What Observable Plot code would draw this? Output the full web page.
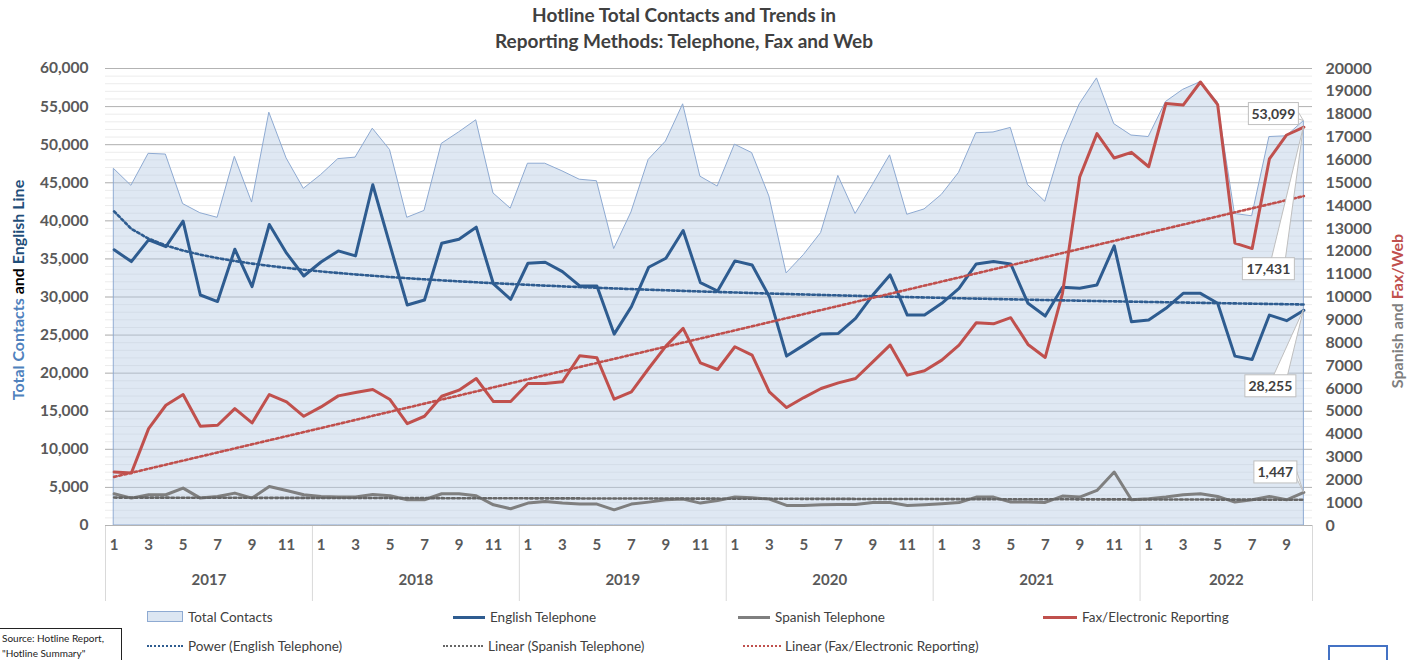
<!DOCTYPE html>
<html>
<head>
<meta charset="utf-8">
<script src="https://cdn.jsdelivr.net/npm/d3@7"></script>
<script src="https://cdn.jsdelivr.net/npm/@observablehq/plot@0.6"></script>
<style>
  html, body { margin: 0; padding: 0; background: #fff; }
  #wrap { position: relative; width: 1413px; height: 660px; overflow: hidden; font-family: Lato, "Open Sans", sans-serif; }
  #chart { position: absolute; left: 0; top: 0; }
  #title { position: absolute; left: 0; top: 2px; width: 1368px; text-align: center; font-weight: bold; font-size: 19px; line-height: 26px; color: #404040; }
  .ytitle { position: absolute; white-space: nowrap; font-weight: bold; font-size: 16px; transform: translate(-50%, -50%) rotate(-90deg); }
  .leg { position: absolute; font-family: "Liberation Sans Narrow", Lato, sans-serif; font-size: 13.5px; color: #404040; white-space: nowrap; line-height: 16px; }
  .sw { position: absolute; }
  #source { position: absolute; left: -1px; top: 628px; width: 123px; height: 40px; border: 1px solid #222; font-family: "Liberation Sans Narrow", Lato, sans-serif; font-size: 10px; line-height: 15px; color: #222; padding: 2px 0 0 2px; box-sizing: border-box; white-space: nowrap; }
  #cornerbox { position: absolute; left: 1328px; top: 645px; width: 60px; height: 22px; border: 2px solid #4472c4; box-sizing: border-box; }
</style>
</head>
<body>
<div id="wrap">
  <div id="chart"></div>
  <div id="title">Hotline Total Contacts and Trends in<br>Reporting Methods: Telephone, Fax and Web</div>
  <div class="ytitle" style="left:17px; top:290px;"><span style="color:#4f81bd">Total Contacts</span> <span style="color:#000">and</span> <span style="color:#1f4e79">English Line</span></div>
  <div class="ytitle" style="left:1396px; top:311px;"><span style="color:#7f7f7f">Spanish and</span> <span style="color:#c0504d">Fax/Web</span></div>
  <div id="legend"></div>
  <div id="source">Source: Hotline Report,<br>"Hotline Summary"</div>
  <div id="cornerbox"></div>
</div>
<script>
// ---------------- DATA ----------------
const years = [2017, 2018, 2019, 2020, 2021, 2022];
const monthsInYear = [12, 12, 12, 12, 12, 10];

const totalContacts = [
  46800, 44600, 48800, 48700, 42200, 41000, 40400, 48400, 42400, 54200, 48200, 44200,
  46000, 48100, 48300, 52100, 49300, 40400, 41300, 50100, 51600, 53200, 43600, 41600,
  47500, 47500, 46500, 45400, 45200, 36300, 41100, 48000, 50400, 55300, 45800, 44500,
  50000, 48900, 43200, 33100, 35500, 38400, 45900, 40900, 44700, 48600, 40800, 41500,
  43400, 46300, 51500, 51600, 52200, 44700, 42500, 50000, 55300, 58700, 52700, 51200,
  51000, 55600, 57200, 58200, 55600, 40900, 40600, 51000, 51100, 53099
];
const englishTelephone = [
  36200, 34650, 37500, 36600, 39960, 30260, 29400, 36270, 31360, 39520, 35750, 32760,
  34600, 36050, 35400, 44740, 36800, 28950, 29600, 37060, 37590, 39170, 31710, 29690,
  34430, 34560, 33330, 31450, 31450, 25130, 28730, 33900, 35090, 38730, 31890, 30790,
  34740, 34210, 30040, 22240, 23680, 25130, 25220, 27190, 30260, 32900, 27630, 27630,
  29170, 31140, 34340, 34650, 34340, 29170, 27500, 31270, 31140, 31580, 36710, 26750,
  26970, 28510, 30480, 30480, 29170, 22240, 21800, 27630, 26890, 28255
];
// right axis units
const spanishTelephone = [
  1389, 1199, 1345, 1345, 1637, 1199, 1272, 1418, 1199, 1710, 1535, 1345,
  1272, 1243, 1243, 1360, 1301, 1126, 1126, 1389, 1389, 1301, 906, 731,
  980, 1053, 980, 936, 936, 687, 936, 1023, 1126, 1155, 980, 1097,
  1243, 1214, 1155, 877, 877, 906, 921, 921, 1009, 1009, 877, 906,
  950, 1009, 1243, 1243, 1023, 1023, 1009, 1287, 1243, 1535, 2339, 1126,
  1170, 1243, 1345, 1389, 1272, 1023, 1126, 1272, 1126, 1447
];
// right axis units
const faxElectronic = [
  2340, 2295, 4240, 5263, 5730, 4343, 4386, 5117, 4488, 5730, 5410, 4780,
  5190, 5673, 5819, 5950, 5512, 4459, 4781, 5658, 5921, 6433, 5424, 5424,
  6213, 6213, 6287, 7427, 7339, 5526, 5848, 6871, 7851, 8626, 7120, 6828,
  7822, 7456, 5848, 5161, 5599, 5994, 6243, 6433, 7164, 7895, 6579, 6769,
  7237, 7895, 8874, 8825, 9094, 7924, 7354, 10161, 15249, 17149, 16082, 16331,
  15700, 18470, 18400, 19410, 18420, 12355, 12120, 16040, 17090, 17431
];
const leftTicks = d3.range(0, 60001, 5000);
const rightTicks = d3.range(0, 20001, 1000);
const rightToLeft = 3; // right axis 0..20000 maps onto left 0..60000

// ---------------- DERIVED ----------------
const cats = years.flatMap((y, k) => d3.range(monthsInYear[k]).map(m => ({year: y, month: m + 1})));
const N = cats.length;
const row = (arr, f = 1) => arr.map((v, i) => ({i, v: v * f}));

function linFit(xv, yv) {
  const mx = d3.mean(xv), my = d3.mean(yv);
  let sxy = 0, sxx = 0;
  xv.forEach((x, k) => { sxy += (x - mx) * (yv[k] - my); sxx += (x - mx) ** 2; });
  const b = sxy / sxx;
  return {a: my - b * mx, b};
}
const xs = cats.map((c, i) => i + 1);
const pw = linFit(xs.map(Math.log), englishTelephone.map(Math.log));
const ls = linFit(xs, spanishTelephone);
const lf = linFit(xs, faxElectronic);
const trendEng = xs.map((x, i) => ({i, v: Math.exp(pw.a) * Math.pow(x, pw.b)}));
const trendSpa = xs.map((x, i) => ({i, v: (ls.a + ls.b * x) * rightToLeft}));
const trendFax = xs.map((x, i) => ({i, v: (lf.a + lf.b * x) * rightToLeft}));

let start = -0.5;
const yearBounds = [start], yearCenters = [];
monthsInYear.forEach(n => { yearCenters.push(start + n / 2); start += n; yearBounds.push(start); });
const oddMonthIdx = cats.map((c, i) => i).filter(i => cats[i].month % 2 === 1);

const C_BLUE = "#2e5c90", C_GRAY = "#7f7f7f", C_RED = "#c0504d";

const callouts = [
  {i: N - 1, v: totalContacts[N - 1], label: totalContacts[N - 1], dx: -30, dy: -7, w: 50, base: "right"},
  {i: N - 1, v: faxElectronic[N - 1] * rightToLeft, label: faxElectronic[N - 1], dx: -35, dy: 142, w: 52, base: "top"},
  {i: N - 1, v: englishTelephone[N - 1], label: englishTelephone[N - 1], dx: -33, dy: 76, w: 51, base: "top"},
  {i: N - 1, v: spanishTelephone[N - 1] * rightToLeft, label: spanishTelephone[N - 1], dx: -28, dy: -20, w: 43, base: "right"}
];

function calloutMark(index, scales) {
  const g = d3.create("svg:g");
  const fmt = d3.format(",");
  callouts.forEach(s => {
    const px = scales.x(s.i), py = scales.y(s.v);
    const cx = px + s.dx, cy = py + s.dy, h = 22;
    const left = cx - s.w / 2, right = cx + s.w / 2, top = cy - h / 2;
    let pts;
    if (s.base === "top") pts = [[cx + 3, top + 1], [cx + 17, top + 1], [px, py]];
    else pts = [[right - 1, cy - 3], [right - 1, cy + 5], [px, py]];
    g.append("polygon").attr("points", pts.map(p => p.join(",")).join(" "))
      .attr("fill", "#fff").attr("stroke", "#bfbfbf").attr("stroke-width", 1);
    g.append("rect").attr("x", left).attr("y", top).attr("width", s.w).attr("height", h)
      .attr("fill", "#fff").attr("stroke", "#bfbfbf").attr("stroke-width", 1);
    g.append("text").attr("x", cx).attr("y", cy).attr("dy", "0.36em").attr("text-anchor", "middle")
      .attr("font-size", 14).attr("font-weight", "bold").attr("fill", "#404040").text(fmt(s.label));
  });
  return g.node();
}

const dotted = {strokeWidth: 2.6, strokeDasharray: "2.6 2.6"};

const chart = Plot.plot({
  width: 1413,
  height: 660,
  marginTop: 68,
  marginBottom: 135,
  marginLeft: 105,
  marginRight: 101,
  style: {fontFamily: "Lato, 'Open Sans', sans-serif", fontWeight: "bold", color: "#595959", background: "transparent"},
  x: {type: "linear", domain: [-0.5, N - 0.5]},
  y: {type: "linear", domain: [0, 60000]},
  marks: [
    Plot.gridY({ticks: d3.range(0, 60001, 1000), stroke: "#ececec", strokeOpacity: 1}),
    Plot.gridY({ticks: leftTicks, stroke: "#b3b3b3", strokeOpacity: 1}),
    Plot.areaY(row(totalContacts), {x: "i", y: "v", fill: "#b8cce4", fillOpacity: 0.45, stroke: "#8eaad2", strokeWidth: 1}),
    Plot.lineY(row(englishTelephone), {x: "i", y: "v", stroke: C_BLUE, strokeWidth: 3}),
    Plot.lineY(row(spanishTelephone, rightToLeft), {x: "i", y: "v", stroke: C_GRAY, strokeWidth: 3}),
    Plot.lineY(row(faxElectronic, rightToLeft), {x: "i", y: "v", stroke: C_RED, strokeWidth: 3}),
    Plot.lineY(trendEng, {x: "i", y: "v", stroke: C_BLUE, ...dotted}),
    Plot.lineY(trendSpa, {x: "i", y: "v", stroke: "#666", ...dotted}),
    Plot.lineY(trendFax, {x: "i", y: "v", stroke: C_RED, ...dotted}),
    Plot.axisY({ticks: leftTicks, tickFormat: d3.format(","), tickSize: 0, tickPadding: 17, fontSize: 15.5, label: null}),
    Plot.axisY({anchor: "right", ticks: rightTicks.map(d => d * rightToLeft), tickFormat: d => String(d / rightToLeft), tickSize: 0, tickPadding: 13, fontSize: 16, label: null}),
    Plot.axisX({ticks: oddMonthIdx, tickFormat: i => String(cats[i].month), tickSize: 0, tickPadding: 14, fontSize: 15, label: null}),
    Plot.axisX({ticks: yearCenters, tickFormat: (d, k) => String(years[k]), tickSize: 0, tickPadding: 49, fontSize: 15, label: null}),
    Plot.axisX({ticks: yearBounds, tickFormat: () => "", tickSize: 76, stroke: "#d9d9d9", strokeOpacity: 1, label: null}),
    Plot.ruleY([0], {stroke: "#b3b3b3"}),
    calloutMark
  ]
});
document.getElementById("chart").appendChild(chart);

// ---------------- LEGEND ----------------
const legendItems = [
  {type: "area", text: "Total Contacts", sx: 147, sw: 36, tx: 188, y: 617},
  {type: "line", color: C_BLUE, text: "English Telephone", sx: 453, sw: 32, tx: 490, y: 617},
  {type: "line", color: C_GRAY, text: "Spanish Telephone", sx: 738, sw: 32, tx: 775, y: 617},
  {type: "line", color: C_RED, text: "Fax/Electronic Reporting", sx: 1043, sw: 34, tx: 1082, y: 617},
  {type: "dot", color: C_BLUE, text: "Power (English Telephone)", sx: 147, sw: 36, tx: 188, y: 646},
  {type: "dot", color: "#666", text: "Linear (Spanish Telephone)", sx: 443, sw: 40, tx: 488, y: 646},
  {type: "dot", color: C_RED, text: "Linear (Fax/Electronic Reporting)", sx: 743, sw: 38, tx: 785, y: 646}
];
const leg = document.getElementById("legend");
legendItems.forEach(it => {
  const sw = document.createElement("div");
  sw.className = "sw";
  if (it.type === "area") {
    Object.assign(sw.style, {left: it.sx + "px", top: (it.y - 6) + "px", width: it.sw + "px", height: "11px", background: "#dce6f2", border: "1px solid #8eaad2", boxSizing: "border-box"});
  } else if (it.type === "line") {
    Object.assign(sw.style, {left: it.sx + "px", top: (it.y - 1.5) + "px", width: it.sw + "px", height: "3px", background: it.color});
  } else {
    Object.assign(sw.style, {left: it.sx + "px", top: (it.y - 1) + "px", width: it.sw + "px", height: "0px", borderTop: "2.5px dotted " + it.color});
  }
  leg.appendChild(sw);
  const t = document.createElement("div");
  t.className = "leg";
  t.style.left = it.tx + "px";
  t.style.top = (it.y - 8) + "px";
  t.textContent = it.text;
  leg.appendChild(t);
});
</script>
</body>
</html>
